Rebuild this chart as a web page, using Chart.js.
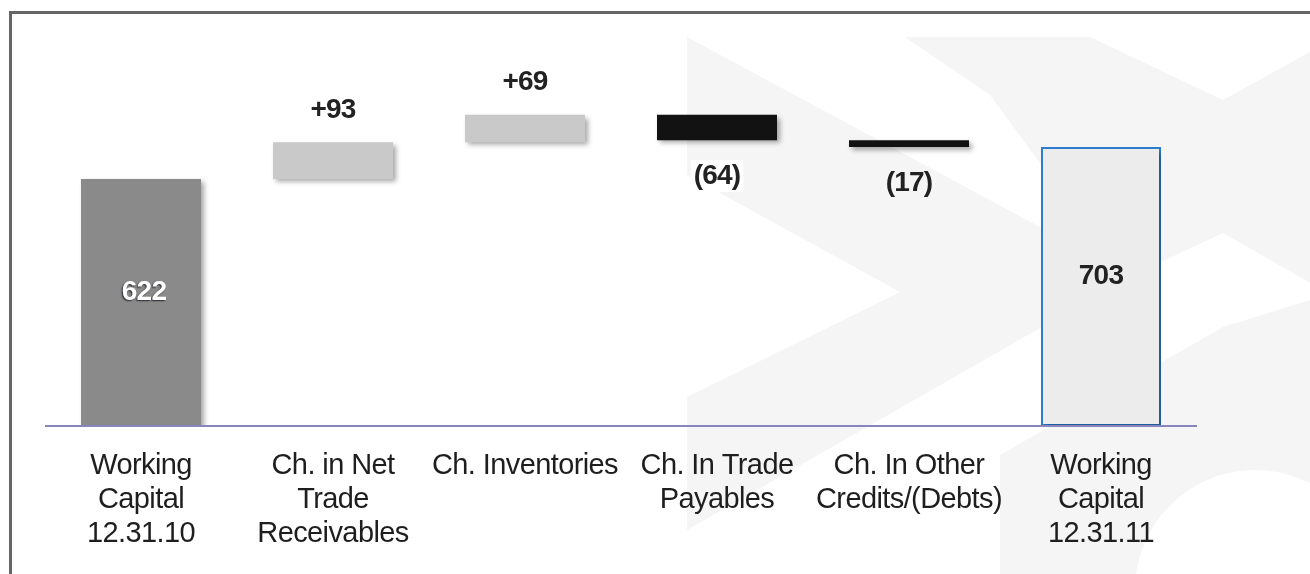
<!DOCTYPE html>
<html>
<head>
<meta charset="utf-8">
<script src="https://cdn.jsdelivr.net/npm/chart.js@4.4.0/dist/chart.umd.min.js"></script>
<style>
  html, body { margin: 0; padding: 0; background: #ffffff; }
  #wrap { width: 1310px; height: 574px; }
</style>
</head>
<body>
<div id="wrap"><canvas id="bridge" width="1310" height="574"></canvas></div>
<script>
// Working capital bridge, 12.31.10 -> 12.31.11
const categories = [
  ['Working', 'Capital', '12.31.10'],
  ['Ch. in Net', 'Trade', 'Receivables'],
  ['Ch. Inventories'],
  ['Ch. In Trade', 'Payables'],
  ['Ch. In Other', 'Credits/(Debts)'],
  ['Working', 'Capital', '12.31.11']
];
const openingTotal = 622;
const changes = [93, 69, -64, -17];
const closingTotal = 703;

// floating segments: totals from zero, changes stacked on the running sum
const segments = [];
const labelValues = [];
const isTotal = [];
let running = openingTotal;
segments.push([0, openingTotal]); labelValues.push(openingTotal); isTotal.push(true);
changes.forEach(c => {
  segments.push([running, running + c]);
  labelValues.push(c); isTotal.push(false);
  running += c;
});
segments.push([0, closingTotal]); labelValues.push(closingTotal); isTotal.push(true);

const fills   = ['#8a8a8a', '#c9c9c9', '#c9c9c9', '#121212', '#121212', '#ececec'];
const borders = ['#8a8a8a', '#c9c9c9', '#c9c9c9', '#121212', '#121212', '#2b7fd3'];
const borderW = [0, 0, 0, 0, 0, 2];

function fmt(v, total) {
  if (total) return String(v);
  return v >= 0 ? '+' + v : '(' + Math.abs(v) + ')';
}

function poly(ctx, pts) {
  ctx.beginPath();
  ctx.moveTo(pts[0][0], pts[0][1]);
  for (let i = 1; i < pts.length; i++) ctx.lineTo(pts[i][0], pts[i][1]);
  ctx.closePath();
  ctx.fill();
}

// faint logo in the background
const backdrop = {
  id: 'backdrop',
  beforeDraw(chart) {
    const ctx = chart.ctx;
    ctx.save();
    ctx.fillStyle = '#ffffff';
    ctx.fillRect(0, 0, chart.width, chart.height);
    ctx.fillStyle = '#f5f5f5';
    poly(ctx, [[687,37],[1131,276],[687,530],[687,397],[900,292],[687,175]]);
    poly(ctx, [[905,37],[1090,37],[1223,100],[1310,52],[1310,283],[1223,233],[1131,276],[1060,190],[990,95]]);
    ctx.save();
    ctx.beginPath();
    ctx.moveTo(1000,455); ctx.lineTo(1223,327); ctx.lineTo(1310,300);
    ctx.lineTo(1310,574); ctx.lineTo(1000,574); ctx.closePath();
    ctx.moveTo(1375,590); ctx.arc(1255,590,120,0,Math.PI*2,true);
    ctx.fill('evenodd');
    ctx.restore();
    ctx.restore();
  }
};

const shadows = {
  id: 'shadows',
  beforeDatasetsDraw(chart) {
    const ctx = chart.ctx;
    ctx.save();
    ctx.shadowColor = 'rgba(0,0,0,0.35)';
    ctx.shadowBlur = 5;
    ctx.shadowOffsetX = 3;
    ctx.shadowOffsetY = 3;
  },
  afterDatasetsDraw(chart) {
    chart.ctx.restore();
  }
};

const annotate = {
  id: 'annotate',
  afterDraw(chart) {
    const ctx = chart.ctx;
    const xs = chart.scales.x, ys = chart.scales.y;
    const y0 = ys.getPixelForValue(0);
    ctx.save();

    // category axis line
    ctx.strokeStyle = '#8985bd';
    ctx.lineWidth = 2;
    ctx.beginPath();
    ctx.moveTo(chart.chartArea.left, y0);
    ctx.lineTo(chart.chartArea.right, y0);
    ctx.stroke();

    // category labels
    ctx.fillStyle = '#1e1e1e';
    ctx.font = '29px "Liberation Sans", Arial, sans-serif';
    ctx.textAlign = 'center';
    ctx.textBaseline = 'alphabetic';
    if ('letterSpacing' in ctx) ctx.letterSpacing = '-0.6px';
    categories.forEach((lines, i) => {
      const cx = xs.getPixelForValue(i);
      lines.forEach((t, k) => ctx.fillText(t, cx, y0 + 48 + k * 34));
    });

    // value labels
    ctx.font = 'bold 28px "Liberation Sans", Arial, sans-serif';
    if ('letterSpacing' in ctx) ctx.letterSpacing = '-0.8px';
    ctx.textBaseline = 'middle';
    const meta = chart.getDatasetMeta(0);
    meta.data.forEach((bar, i) => {
      const v = labelValues[i];
      const txt = fmt(v, isTotal[i]);
      const top = Math.min(bar.y, bar.base), bottom = Math.max(bar.y, bar.base);
      let ty;
      if (isTotal[i]) ty = (top + bottom) / 2 - 10;
      else if (v >= 0) ty = top - 32;
      else ty = bottom + 36;
      if (!isTotal[i] && v < 0 && i === 3) {
        const w = ctx.measureText(txt).width;
        ctx.fillStyle = '#ffffff';
        ctx.fillRect(bar.x - w / 2 - 3, ty - 16, w + 6, 32);
      }
      if (i === 0) {
        ctx.save();
        ctx.shadowColor = 'rgba(30,30,40,0.9)';
        ctx.shadowBlur = 1.5;
        ctx.shadowOffsetX = -1;
        ctx.shadowOffsetY = 0.5;
        ctx.fillStyle = '#ffffff';
        ctx.fillText(txt, bar.x + 3, ty);
        ctx.restore();
      } else {
        ctx.fillStyle = '#222222';
        ctx.fillText(txt, bar.x, ty);
      }
    });

    // frame
    if ('letterSpacing' in ctx) ctx.letterSpacing = '0px';
    ctx.strokeStyle = '#666666';
    ctx.lineWidth = 3;
    ctx.beginPath();
    ctx.moveTo(10.5, 574);
    ctx.lineTo(10.5, 12.5);
    ctx.lineTo(1310, 12.5);
    ctx.stroke();
    ctx.restore();
  }
};

new Chart(document.getElementById('bridge'), {
  type: 'bar',
  data: {
    labels: categories,
    datasets: [{
      data: segments,
      backgroundColor: fills,
      borderColor: borders,
      borderWidth: borderW,
      borderSkipped: false,
      barPercentage: 0.625,
      categoryPercentage: 1.0
    }]
  },
  options: {
    responsive: false,
    animation: false,
    layout: { padding: { left: 45, right: 113, top: 29, bottom: 148 } },
    plugins: { legend: { display: false }, tooltip: { enabled: false } },
    scales: {
      x: { display: false, offset: true },
      y: { display: false, min: 0, max: 1000 }
    }
  },
  plugins: [backdrop, shadows, annotate]
});
</script>
</body>
</html>
